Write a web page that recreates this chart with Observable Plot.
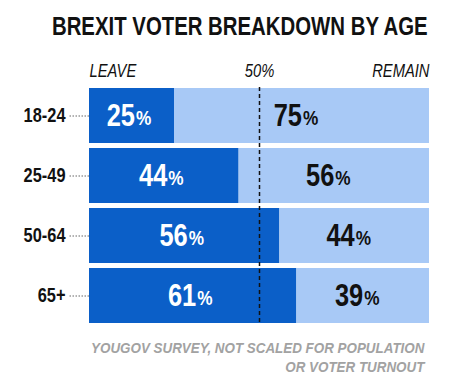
<!DOCTYPE html>
<html>
<head>
<meta charset="utf-8">
<script src="https://cdn.jsdelivr.net/npm/d3@7"></script>
<script src="https://cdn.jsdelivr.net/npm/@observablehq/plot@0.6"></script>
<style>
  html, body { margin: 0; padding: 0; background: #fff; width: 450px; height: 383px; overflow: hidden; }
  body { font-family: 'Liberation Sans', Arial, sans-serif; }
  #title { height: 48px; line-height: 52px; text-align: center; white-space: nowrap; }
  #title span { display: inline-block; font-size: 26px; font-weight: bold; color: #111; transform-origin: center; }
  #caption { text-align: right; padding-right: 26px; margin-top: 3px; white-space: nowrap; }
  #caption span { display: inline-block; font-size: 15px; font-style: italic; font-weight: bold; color: #a2a2a2; line-height: 19px; text-align: right; transform-origin: right center; }
</style>
</head>
<body>
<div id="title"><span>BREXIT VOTER BREAKDOWN BY AGE</span></div>
<div id="chart"></div>
<div id="caption"><span>YOUGOV SURVEY, NOT SCALED FOR POPULATION<br>OR VOTER TURNOUT</span></div>
<script>
const ages = ["18-24", "25-49", "50-64", "65+"];
const leave = [25, 44, 56, 61];
const remain = [75, 56, 44, 39];
const headerLabels = ["LEAVE", "50%", "REMAIN"];
const headerPositions = [0, 50, 100];

const darkBlue = "#0b5fc8";
const lightBlue = "#a8c9f6";

const rows = ages.map((a, i) => ({age: a, leave: leave[i], remain: remain[i]}));
const header = headerLabels.map((t, i) => ({label: t, x: headerPositions[i]}));
const font = "'Liberation Sans', Arial, sans-serif";

const headerOpts = {x: "x", text: "label", frameAnchor: "top", dy: -23, fontSize: 18, fontStyle: "italic", fill: "#111"};

const chart = Plot.plot({
  width: 450,
  height: 287,
  marginTop: 39,
  marginBottom: 10,
  marginLeft: 89,
  marginRight: 21,
  style: {fontFamily: font, color: "#111", background: "#fff", overflow: "visible"},
  x: {domain: [0, 100], axis: null},
  y: {domain: ages, paddingInner: 0.08, paddingOuter: 0, axis: null, label: null},
  marks: [
    Plot.barX(rows, {y: "age", x1: 0, x2: "leave", fill: darkBlue}),
    Plot.barX(rows, {y: "age", x1: "leave", x2: 100, fill: lightBlue}),
    Plot.ruleX([50], {stroke: "#111", strokeWidth: 1.5, strokeDasharray: "4,3"}),
    Plot.axisY({label: null, tickSize: 20, tickPadding: 4, stroke: "#666", strokeDasharray: "1.5,1.5", fontSize: 20, fontWeight: "bold", fill: "#111"}),
    Plot.text(rows, {y: "age", x: d => d.leave / 2, text: d => String(d.leave), textAnchor: "end", fill: "#fff", fontSize: 31, fontWeight: "bold", dx: 3}),
    Plot.text(rows, {y: "age", x: d => d.leave / 2, text: () => "%", textAnchor: "start", fill: "#fff", fontSize: 21, fontWeight: "bold", dx: 4, dy: 2}),
    Plot.text(rows, {y: "age", x: d => d.leave + d.remain / 2, text: d => String(d.remain), textAnchor: "end", fill: "#111", fontSize: 31, fontWeight: "bold"}),
    Plot.text(rows, {y: "age", x: d => d.leave + d.remain / 2, text: () => "%", textAnchor: "start", fill: "#111", fontSize: 21, fontWeight: "bold", dx: 1, dy: 2}),
    Plot.text(header.filter(d => d.x === 0), {...headerOpts, textAnchor: "start"}),
    Plot.text(header.filter(d => d.x === 50), {...headerOpts, textAnchor: "middle"}),
    Plot.text(header.filter(d => d.x === 100), {...headerOpts, textAnchor: "end"})
  ]
});
document.getElementById("chart").appendChild(chart);

// condensed look: scale every SVG text horizontally about its own anchor
const k = 0.82;
chart.querySelectorAll("text").forEach(t => {
  let x = parseFloat(t.getAttribute("x"));
  if (!isFinite(x)) x = 0;
  const tr = t.getAttribute("transform") || "";
  t.setAttribute("transform", `${tr} translate(${x},0) scale(${k},1) translate(${-x},0)`);
});

// fit title and caption to the reference widths
function fit(sel, target) {
  const el = document.querySelector(sel);
  el.style.transform = "none";
  const w = el.offsetWidth;
  el.style.transform = `scaleX(${target / w})`;
}
function fitAll() {
  fit("#title span", 376);
  fit("#caption span", 333);
}
fitAll();
if (document.fonts && document.fonts.ready) document.fonts.ready.then(fitAll);
</script>
</body>
</html>
